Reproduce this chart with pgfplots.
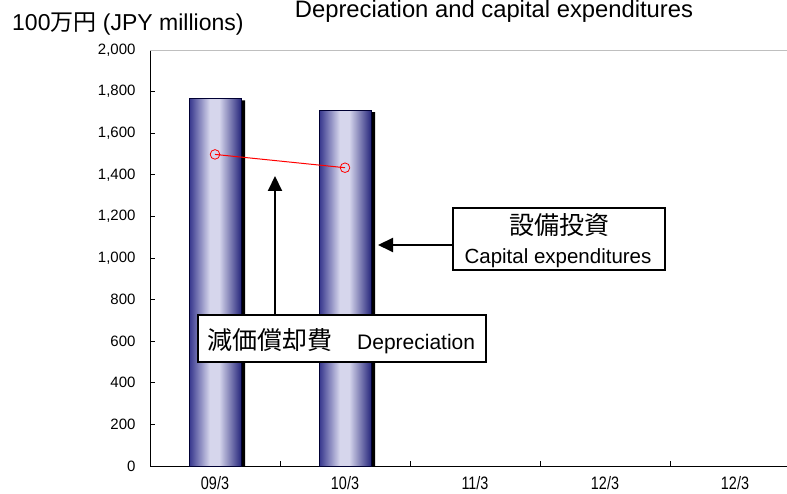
\documentclass[border=0pt]{standalone}
\usepackage{fontspec}
\setmainfont{Liberation Sans}
\newfontfamily\jp{Noto Sans CJK JP}
\newfontfamily\narrowfont[FakeStretch=0.8]{Liberation Sans}
\usepackage{pgfplots}
\pgfplotsset{compat=1.18}
\usetikzlibrary{arrows.meta}
\definecolor{bardark}{RGB}{52,52,140}
\definecolor{bardark2}{RGB}{40,40,125}
\definecolor{barlight}{RGB}{214,214,236}
\pgfdeclarehorizontalshading{barshade}{100bp}{color(0bp)=(bardark); color(25bp)=(bardark); color(45bp)=(barlight); color(54bp)=(barlight); color(75bp)=(bardark2); color(100bp)=(bardark2)}
\begin{document}
\begin{tikzpicture}[x=1pt,y=1pt]
\useasboundingbox (0,0) rectangle (787,494);
\begin{axis}[
  at={(150pt,28pt)}, anchor=south west,
  scale only axis, width=637pt, height=416pt,
  xmin=-0.5, xmax=4.4, ymin=0, ymax=2000,
  axis x line*=bottom, axis y line*=left, axis line style={-, black, line width=0.8pt},
  ytick={0,200,...,2000},
  /pgf/number format/1000 sep={,},
  /pgf/number format/assume math mode=true,
  yticklabel style={font=\fontsize{15}{15}\selectfont, xshift=-11pt},
  tick align=inside, major tick length=5pt,
  tick style={black, line width=0.8pt},
  xtick={0.5,1.5,2.5,3.5}, xticklabels={},
  extra x ticks={0,1,2,3,4},
  extra x tick labels={09/3,10/3,11/3,12/3,12/3},
  extra x tick style={major tick length=0pt, xticklabel style={font=\narrowfont\fontsize{18}{18}\selectfont, yshift=-7pt}},
  clip=false,
]
\draw[black!25, line width=0.8pt] (axis cs:-0.5,2000) -- (axis cs:4.4,2000);
\addplot[ybar, bar width=52pt, bar shift=4pt, fill=black, draw=none] coordinates {(0,1758) (1,1701)};
\addplot[ybar, bar width=52pt, bar shift=0pt, draw=black!80!blue, line width=0.6pt, shade, shading=barshade] coordinates {(0,1768)};
\addplot[ybar, bar width=52pt, bar shift=0pt, draw=black!80!blue, line width=0.6pt, shade, shading=barshade] coordinates {(1,1711)};
\addplot[red, line width=1pt, mark=o, mark size=4.8pt, mark options={solid, line width=0.8pt}] coordinates {(0,1498) (1,1434)};
\end{axis}
% title and unit label
\node[anchor=base, font=\fontsize{23.8}{24}\selectfont] at (494,476) {Depreciation and capital expenditures};
\node[anchor=base west, inner sep=0, font=\fontsize{23}{24}\selectfont] at (12,463) {100{\jp 万円} (JPY millions)};
% depreciation annotation
\draw[-{Triangle[width=14pt,length=15pt]}, line width=2pt] (275,179) -- (275,318);
\draw[fill=white, line width=1.5pt] (198,132) rectangle (486,179);
\node[anchor=base west, inner sep=0, font=\jp\fontsize{25}{26}\selectfont] at (207,144) {減価償却費};
\node[anchor=base west, inner sep=0, font=\fontsize{21}{22}\selectfont] at (357,144) {Depreciation};
% capex annotation
\draw[-{Triangle[width=14pt,length=15pt]}, line width=2pt] (453,249) -- (378,249);
\draw[fill=white, line width=1.5pt] (453,224) rectangle (665,286);
\node[anchor=base, inner sep=0, font=\jp\fontsize{25}{26}\selectfont] at (559,259) {設備投資};
\node[anchor=base, inner sep=0, font=\fontsize{20.5}{22}\selectfont] at (558,230) {Capital expenditures};
\end{tikzpicture}
\end{document}
